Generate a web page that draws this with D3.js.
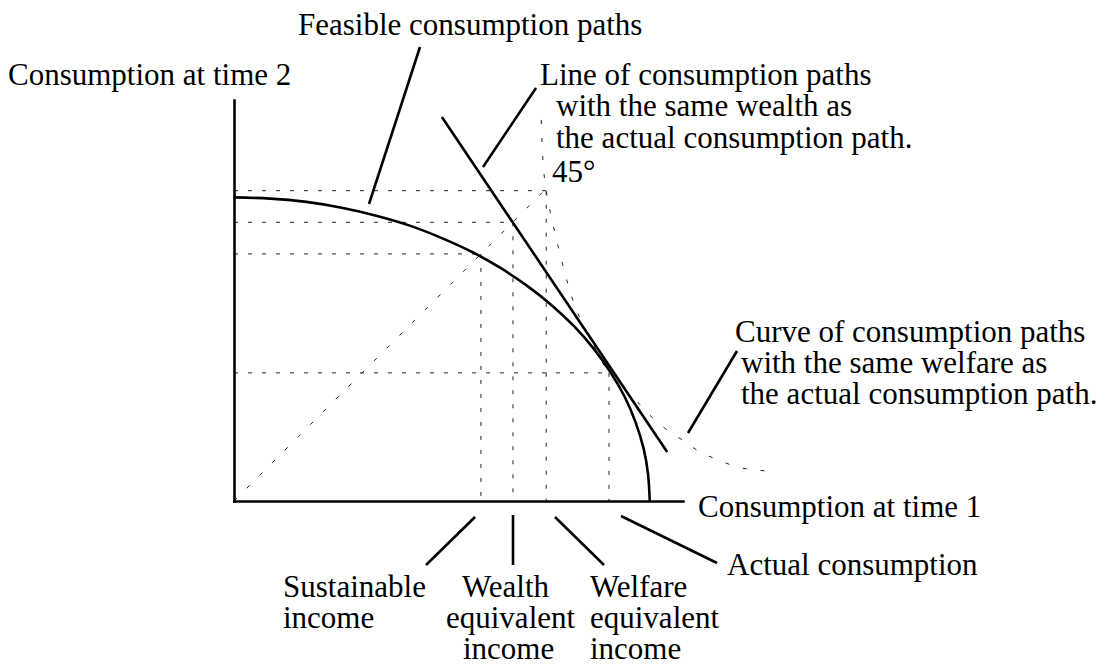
<!DOCTYPE html>
<html>
<head>
<meta charset="utf-8">
<script src="https://cdn.jsdelivr.net/npm/d3@7"></script>
<style>
  body { margin: 0; background: #fff; }
  text { font-family: "Liberation Serif", "Times New Roman", serif; font-size: 31px; fill: #000; }
</style>
</head>
<body>
<script>
    //Data (consumption units)
        const feasibleC1 = [0, 8.7, 17.4, 25.9, 34.2, 42.3, 50.0, 57.4, 64.3, 70.7, 76.6, 81.9, 86.6, 90.6, 94.0, 96.6, 98.5, 99.6, 100];
        const feasibleC2 = [73.0, 72.7, 71.9, 70.5, 68.6, 66.2, 63.2, 59.8, 55.9, 51.6, 46.9, 41.9, 36.5, 30.9, 25.0, 18.9, 12.7, 6.4, 0];

        const welfareC1 = [73.9, 74.3, 75.1, 76.5, 78.4, 80.6, 83.2, 86.6, 90.2, 94.8, 97.7, 101.0, 104.6, 108.5, 112.1, 116.4, 121.0, 125.3, 130.1];
        const welfareC2 = [91.6, 82.0, 74.5, 67.5, 59.4, 51.2, 44.0, 37.3, 30.8, 26.2, 23.1, 19.7, 16.8, 14.2, 11.8, 9.9, 8.2, 7.5, 7.0];

        const wealthC1 = [50.0, 104.2];
        const wealthC2 = [92.3, 11.8];

        const diagonal = [0, 76];

        // sustainable, wealth equivalent, welfare equivalent, actual
        const pointC1 = [59.4, 67.1, 75.1, 90.2];
        const pointC2 = [59.4, 67.0, 74.6, 30.8];

        const axisMaxC1 = 108;
        const axisMaxC2 = 96.4;


    //Set up dimensions
        const width = 1116;
        const height = 666;
        const originX = 234;
        const originY = 501;


    //Set up scales
        const xScale = d3.scaleLinear()
                        .domain([0, axisMaxC1])
                        .range([originX, 683]);

        const yScale = d3.scaleLinear()
                        .domain([0, axisMaxC2])
                        .range([originY, 100]);


    //Make the SVG
        const svg = d3.select("body")
                    .append("svg")
                    .attr("width", width)
                    .attr("height", height);


    //Dotted guide lines
        const guides = svg.append("g")
            .attr("stroke", "#222")
            .attr("stroke-width", 1)
            .attr("stroke-dasharray", "4,10")
            .attr("fill", "none");

        pointC1.forEach((c1, i) => {
            guides.append("line")
                .attr("x1", xScale(0))
                .attr("y1", yScale(pointC2[i]))
                .attr("x2", xScale(c1))
                .attr("y2", yScale(pointC2[i]));
            guides.append("line")
                .attr("x1", xScale(c1))
                .attr("y1", yScale(pointC2[i]))
                .attr("x2", xScale(c1))
                .attr("y2", yScale(0));
        });

        guides.append("line")
            .attr("x1", xScale(diagonal[0]))
            .attr("y1", yScale(diagonal[0]))
            .attr("x2", xScale(diagonal[1]))
            .attr("y2", yScale(diagonal[1]))
            .attr("stroke-dasharray", "4,14");


    //Welfare curve (dotted)
        const curveLine = d3.line()
            .x(d => xScale(d[0]))
            .y(d => yScale(d[1]))
            .curve(d3.curveNatural);

        svg.append("path")
            .datum(welfareC1.map((c, i) => [c, welfareC2[i]]))
            .attr("d", curveLine)
            .attr("fill", "none")
            .attr("stroke", "#222")
            .attr("stroke-width", 1)
            .attr("stroke-dasharray", "4,14");


    //Feasible curve
        svg.append("path")
            .datum(feasibleC1.map((c, i) => [c, feasibleC2[i]]))
            .attr("d", curveLine)
            .attr("fill", "none")
            .attr("stroke", "#000")
            .attr("stroke-width", 2.6);


    //Wealth line
        svg.append("line")
            .attr("x1", xScale(wealthC1[0]))
            .attr("y1", yScale(wealthC2[0]))
            .attr("x2", xScale(wealthC1[1]))
            .attr("y2", yScale(wealthC2[1]))
            .attr("stroke", "#000")
            .attr("stroke-width", 2.6);


    //Axes
        const bottomAxis = d3.axisBottom(xScale).tickValues([]).tickSizeOuter(0);
        const leftAxis = d3.axisLeft(yScale).tickValues([]).tickSizeOuter(0);

        svg.append("g")
            .attr("transform", "translate(0," + originY + ")")
            .call(bottomAxis);

        svg.append("g")
            .attr("transform", "translate(" + originX + ",0)")
            .call(leftAxis);

        svg.selectAll(".domain")
            .attr("stroke", "#000")
            .attr("stroke-width", 2.6)
            .attr("stroke-linecap", "square");


    //Leader lines
        const leaders = [
            [420, 47, 369, 204],
            [536, 88, 483, 167],
            [737, 351, 688, 433],
            [475, 517, 426, 565],
            [513, 515, 513, 565],
            [555, 517, 604, 565],
            [621, 516, 717, 563]
        ];

        svg.selectAll(".leader")
            .data(leaders)
            .enter()
            .append("line")
            .attr("x1", d => d[0])
            .attr("y1", d => d[1])
            .attr("x2", d => d[2])
            .attr("y2", d => d[3])
            .attr("stroke", "#000")
            .attr("stroke-width", 2.6);


    //Labels
        const labels = [
            ["Feasible consumption paths", 298, 35],
            ["Consumption at time 2", 8, 85],
            ["Line of consumption paths", 540, 85],
            ["with the same wealth as", 556, 116],
            ["the actual consumption path.", 556, 148],
            ["45°", 552, 182],
            ["Curve of consumption paths", 735, 342],
            ["with the same welfare as", 741, 373],
            ["the actual consumption path.", 741, 404],
            ["Consumption at time 1", 698, 517],
            ["Actual consumption", 727, 575],
            ["Sustainable", 283, 597],
            ["income", 283, 628],
            ["Wealth", 462, 597],
            ["equivalent", 446, 628],
            ["income", 463, 659],
            ["Welfare", 590, 597],
            ["equivalent", 590, 628],
            ["income", 590, 659]
        ];

        svg.selectAll(".label")
            .data(labels)
            .enter()
            .append("text")
            .attr("x", d => d[1])
            .attr("y", d => d[2])
            .text(d => d[0]);
</script>
</body>
</html>
